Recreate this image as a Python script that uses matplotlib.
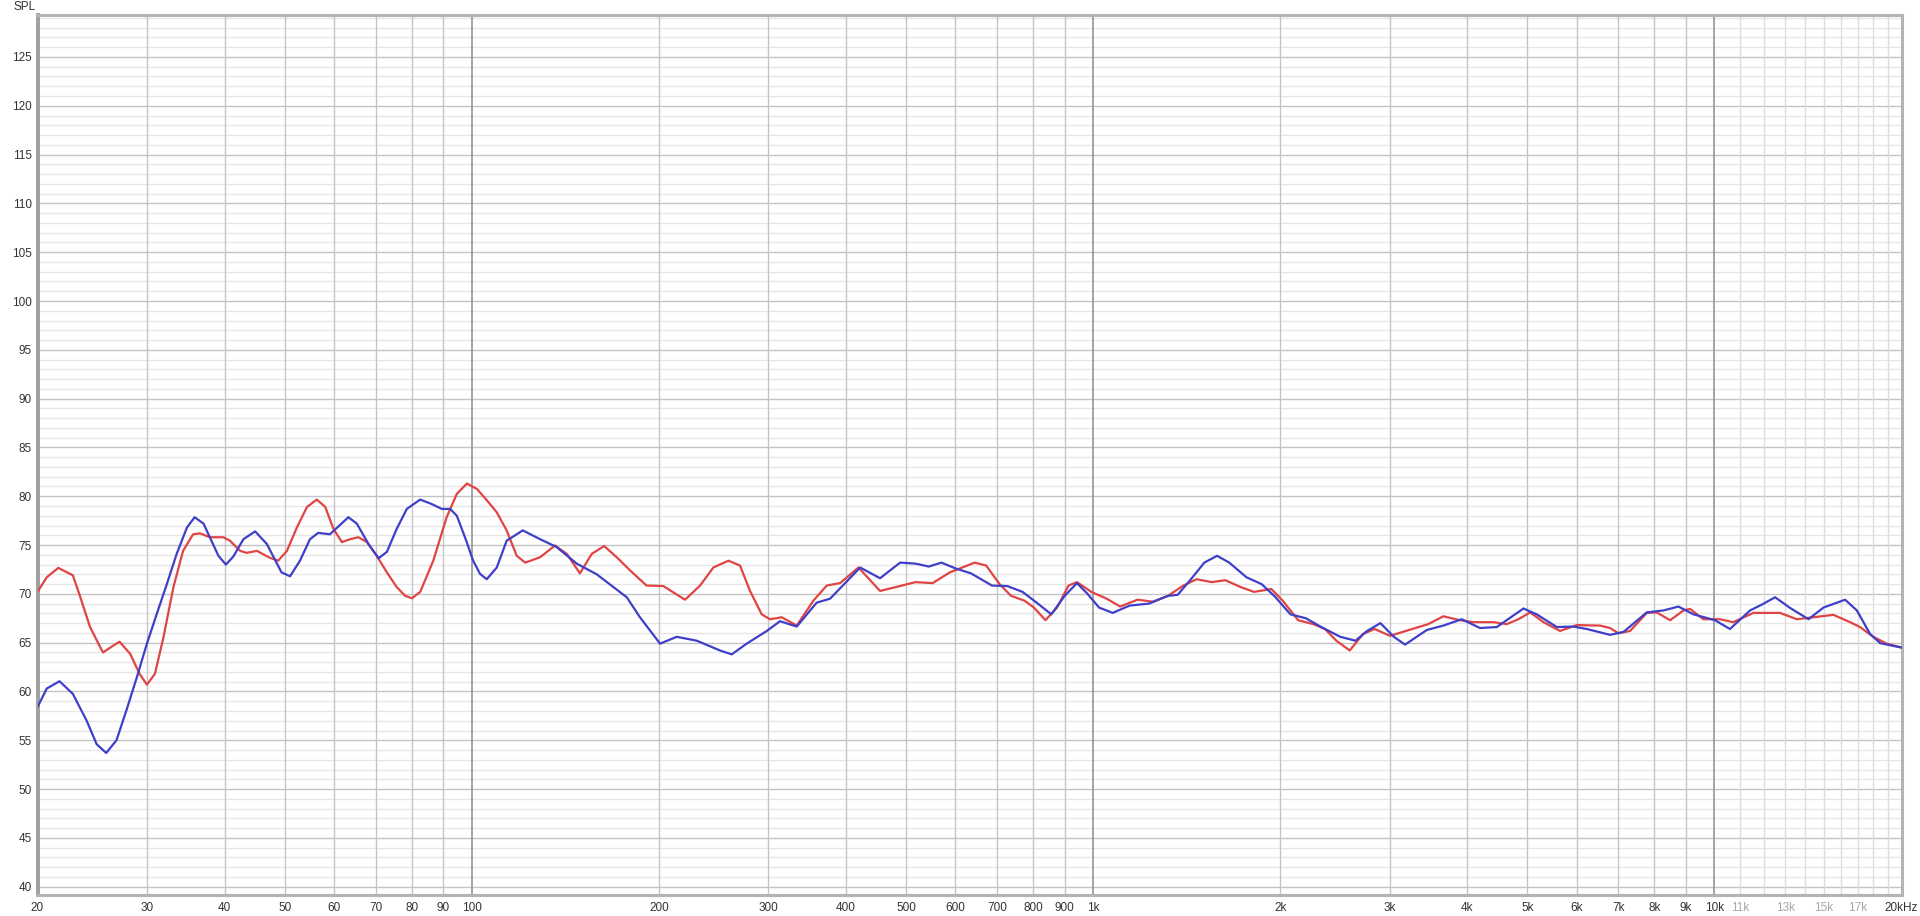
import numpy as np
import matplotlib
matplotlib.use("Agg")
import matplotlib.pyplot as plt

# ---- data (frequency in Hz, SPL in dB) ----
red_f = [20, 20.7, 21.6, 22.8, 23.4, 24.3, 25.3, 25.5, 26.2, 27.1, 28.2, 29.2, 30, 30.9,
         31.9, 33.1, 34.3, 35.6, 36.5, 37.9, 39.8, 40.8, 42.4, 43.4, 45.1, 47.3, 48.8,
         50.4, 52.3, 54.3, 56.3, 58.1, 59.9, 61.8, 63.7, 65.7, 67.8, 70.3, 73.0, 75.7,
         78.1, 80.1, 82.6, 86.7, 91.1, 94.6, 98.2, 101.9, 105.7, 109.7, 113.8, 118.1,
         121.9, 128.8, 136.1, 142.2, 149.3, 156, 163.3, 171.1, 179.8, 191.1, 203.3,
         220.4, 233, 244.8, 258.9, 270.2, 280.4, 292.8, 302, 315.4, 333.4, 354.6, 372.6,
         391.5, 419.1, 454, 489, 517.5, 551.6, 588, 644.7, 672.8, 707, 737.7, 775.3, 803,
         838, 875, 912.9, 941.8, 993.4, 1052, 1105, 1179, 1247, 1320, 1397, 1467, 1553,
         1632, 1727, 1816, 1935, 2019, 2138, 2262, 2361, 2463, 2588, 2720, 2839, 3004,
         3225, 3462, 3661, 3895, 4093, 4408, 4632, 4836, 5051, 5307, 5643, 6003, 6545,
         6793, 7005, 7315, 7781, 8075, 8485, 8916, 9138, 9596, 10208, 10720, 11550,
         12750, 13570, 14430, 15540, 16530, 17150, 18010, 18930, 20000]
red_db = [70.2, 71.7, 72.66, 71.9, 69.8, 66.6, 64.4, 64.0, 64.5, 65.1, 63.85, 61.8, 60.7,
          61.8, 65.55, 70.7, 74.4, 76.1, 76.2, 75.8, 75.8, 75.45, 74.4, 74.2, 74.4, 73.7,
          73.4, 74.4, 76.8, 78.9, 79.66, 78.9, 76.65, 75.3, 75.6, 75.8, 75.3, 73.9, 72.2,
          70.7, 69.8, 69.55, 70.2, 73.4, 77.85, 80.24, 81.3, 80.75, 79.6, 78.35, 76.5,
          73.9, 73.2, 73.75, 74.95, 74.1, 72.1, 74.1, 74.9, 73.75, 72.4, 70.85, 70.8,
          69.4, 70.85, 72.7, 73.4, 72.9, 70.3, 67.9, 67.4, 67.6, 66.75, 69.3, 70.85,
          71.1, 72.7, 70.3, 70.8, 71.2, 71.1, 72.2, 73.2, 72.9, 71.0, 69.8, 69.3, 68.6,
          67.3, 68.6, 70.85, 71.2, 70.2, 69.5, 68.7, 69.4, 69.2, 69.8, 70.85, 71.5, 71.2,
          71.4, 70.7, 70.2, 70.5, 69.3, 67.3, 66.9, 66.4, 65.2, 64.2, 65.9, 66.4, 65.7,
          66.3, 66.9, 67.7, 67.3, 67.1, 67.1, 66.9, 67.4, 68.1, 67.1, 66.2, 66.8, 66.75,
          66.5, 65.96, 66.2, 68.05, 68.1, 67.3, 68.3, 68.46, 67.4, 67.4, 67.1, 68.05,
          68.05, 67.4, 67.6, 67.85, 67.1, 66.6, 65.6, 64.9, 64.5]

blue_f = [20, 20.7, 21.7, 22.8, 24.0, 24.9, 25.8, 26.8, 27.8, 28.9, 30, 31.1, 32.3, 33.5,
          34.8, 35.8, 37.0, 38.1, 39.1, 40.2, 41.3, 42.9, 44.8, 46.8, 49.4, 51.0, 52.9,
          54.9, 56.6, 59.1, 61.0, 63.3, 65.3, 68.2, 70.8, 73.0, 75.7, 78.6, 82.6, 86.2,
          89.5, 92.3, 94.6, 97.5, 100.5, 103.1, 105.7, 109.7, 113.8, 120.8, 128.8, 136.9,
          147.5, 158.9, 169, 177.6, 186.5, 200.9, 213.7, 230.2, 250.9, 262, 277, 298.4,
          313.4, 333.4, 359, 377.2, 421.8, 454, 489, 517.5, 543.9, 570, 600.9, 636, 687.4,
          727.6, 770, 814.8, 856.5, 900, 941.8, 979.5, 1022, 1075, 1145, 1230, 1320, 1368,
          1437, 1510, 1583, 1656, 1765, 1867, 1963, 2078, 2200, 2329, 2499, 2644, 2760,
          2900, 3048, 3177, 3444, 3661, 3920, 4194, 4463, 4927, 5176, 5575, 5929, 6229,
          6793, 7138, 7781, 8277, 8750, 9254, 10020, 10590, 11410, 11920, 12520, 13240,
          14170, 14980, 16230, 16950, 17800, 18480, 20000]
blue_db = [58.4, 60.3, 61.05, 59.75, 57.0, 54.6, 53.7, 55.0, 58.05, 61.45, 64.9, 67.9,
           71.0, 74.1, 76.8, 77.85, 77.2, 75.45, 73.9, 73.0, 73.8, 75.6, 76.4, 75.1, 72.2,
           71.8, 73.4, 75.6, 76.25, 76.1, 76.9, 77.85, 77.2, 75.1, 73.65, 74.3, 76.65,
           78.7, 79.66, 79.2, 78.7, 78.7, 78.0, 75.8, 73.4, 72.05, 71.5, 72.7, 75.45,
           76.5, 75.6, 74.8, 73.1, 72.0, 70.7, 69.65, 67.6, 64.9, 65.6, 65.2, 64.2, 63.8,
           64.9, 66.2, 67.2, 66.65, 69.1, 69.5, 72.7, 71.6, 73.2, 73.1, 72.8, 73.2, 72.6,
           72.1, 70.85, 70.8, 70.2, 69.0, 67.9, 69.8, 71.1, 70.0, 68.6, 68.05, 68.8, 69.0,
           69.8, 69.9, 71.5, 73.2, 73.9, 73.2, 71.7, 71.0, 69.7, 67.9, 67.5, 66.6, 65.6,
           65.2, 66.2, 67.0, 65.6, 64.8, 66.3, 66.75, 67.4, 66.5, 66.6, 68.5, 67.9, 66.6,
           66.65, 66.4, 65.8, 66.1, 68.1, 68.3, 68.7, 67.9, 67.3, 66.4, 68.3, 68.9, 69.65,
           68.55, 67.4, 68.6, 69.4, 68.3, 65.9, 64.95, 64.5]

x_ticks = [20, 30, 40, 50, 60, 70, 80, 90, 100, 200, 300, 400, 500, 600, 700, 800, 900,
           1000, 2000, 3000, 4000, 5000, 6000, 7000, 8000, 9000, 10000, 11000, 13000,
           15000, 17000, 20000]
x_labels = ["20", "30", "40", "50", "60", "70", "80", "90", "100", "200", "300", "400",
            "500", "600", "700", "800", "900", "1k", "2k", "3k", "4k", "5k", "6k", "7k",
            "8k", "9k", "10k", "11k", "13k", "15k", "17k", "20kHz"]
faint_labels = ["11k", "13k", "15k", "17k"]
y_ticks = list(range(40, 126, 5))

plt.rcParams.update({"font.family": ["Liberation Sans", "DejaVu Sans"], "font.size": 8.5})

fig = plt.figure(figsize=(19.2, 9.16), dpi=100)
ax = fig.add_axes([37.5 / 1920, 1 - 895 / 916, (1901.5 - 37.5) / 1920, (895 - 15) / 916])
ax.set_xscale("log")
ax.set_xlim(20, 20000)
ax.set_ylim(39.15, 129.3)

# grid: 1 dB light, 5 dB darker
for v in range(40, 130):
    major = v % 5 == 0
    ax.axhline(v, color="#c4c4c4" if major else "#e6e6e6", lw=1.0, zorder=0)
for dec in [10, 100, 1000]:
    for k in range(2, 10):
        f = k * dec
        if 20 < f < 20000:
            ax.axvline(f, color="#c4c4c4", lw=1.0, zorder=0.5)
for f in [100, 1000, 10000]:
    ax.axvline(f, color="#8c8c8c", lw=1.1, zorder=0.6)
for k in range(11, 20):
    ax.axvline(k * 1000, color="#dcdcdc", lw=1.0, zorder=0.5)

ax.plot(red_f, red_db, color="#e04444", lw=1.6, zorder=3, solid_joinstyle="round")
ax.plot(blue_f, blue_db, color="#3f3fc9", lw=1.6, zorder=4, solid_joinstyle="round")

ax.set_xticks(x_ticks)
ax.set_xticklabels(x_labels)
ax.xaxis.set_minor_locator(matplotlib.ticker.NullLocator())
ax.set_yticks(y_ticks)
ax.tick_params(length=0, colors="#333333", labelsize=8.5)
ax.tick_params(axis="x", pad=5)
ax.tick_params(axis="y", pad=4)
for lab in ax.get_xticklabels():
    if lab.get_text() in faint_labels:
        lab.set_color("#a8a8a8")

for s in ax.spines.values():
    s.set_color("#b4b4b4")
    s.set_linewidth(2.2)
ax.spines["left"].set_color("#a0a0a0")
ax.spines["left"].set_linewidth(2.8)

fig.text(14 / 1920, 1 - 7 / 916, "SPL", ha="left", va="center", fontsize=8.5,
         color="#333333")

fig.savefig("out.png", dpi=100)
